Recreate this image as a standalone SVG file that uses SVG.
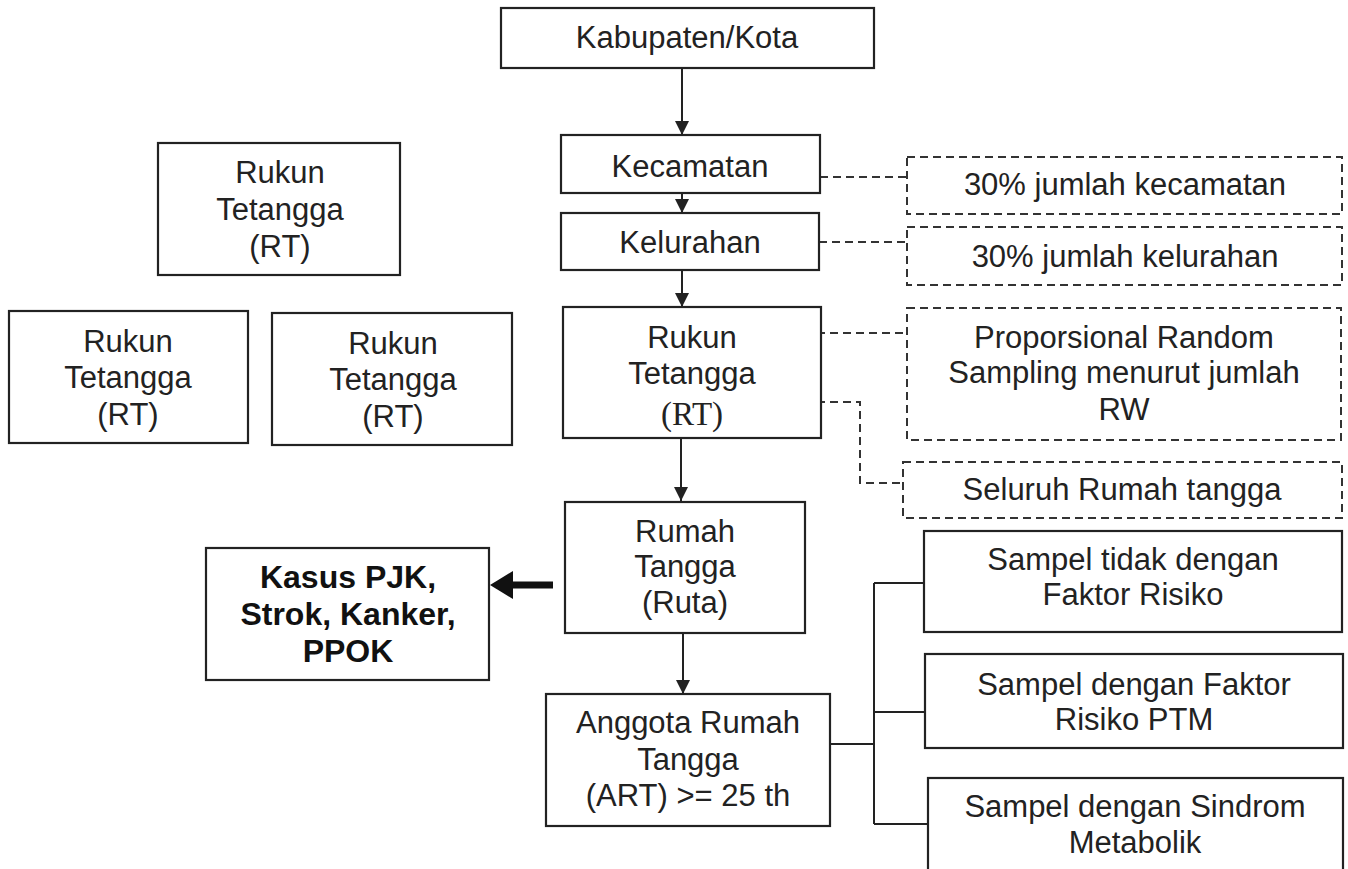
<svg xmlns="http://www.w3.org/2000/svg" width="1348" height="869" viewBox="0 0 1348 869">
<style>
.box{fill:#fff;stroke:#222;stroke-width:2.2}
.dbox{fill:#fff;stroke:#333;stroke-width:2;stroke-dasharray:8 5}
.t{font-family:"Liberation Sans",Arial,sans-serif;font-size:31px;fill:#222;text-anchor:middle}
.tb{font-family:"Liberation Sans",Arial,sans-serif;font-size:32px;font-weight:bold;fill:#111;text-anchor:middle}
.ts{font-family:"Liberation Serif","Times New Roman",serif;font-size:33px;fill:#222;text-anchor:middle}
.ln{fill:none;stroke:#222;stroke-width:2}
.dl{fill:none;stroke:#333;stroke-width:2;stroke-dasharray:8 5}
</style>
<defs>
<marker id="ah" viewBox="0 0 14 14" refX="14" refY="7" markerWidth="14" markerHeight="14" markerUnits="userSpaceOnUse" orient="auto">
<path d="M0,0 L14,7 L0,14 z" fill="#222"/>
</marker>
</defs>
<rect width="1348" height="869" fill="#fff"/>

<g id="connectors">
<line class="ln" x1="682" y1="68" x2="682" y2="135" marker-end="url(#ah)"/>
<line class="ln" x1="682" y1="193" x2="682" y2="213" marker-end="url(#ah)"/>
<line class="ln" x1="682" y1="270" x2="682" y2="307" marker-end="url(#ah)"/>
<line class="ln" x1="681" y1="438" x2="681" y2="501" marker-end="url(#ah)"/>
<line class="ln" x1="683" y1="633" x2="683" y2="694" marker-end="url(#ah)"/>
<line x1="553" y1="585" x2="508" y2="585" stroke="#111" stroke-width="7"/>
<polygon points="490,585 513,571 513,599" fill="#111"/>
<polyline class="dl" points="820,177 907,177"/>
<polyline class="dl" points="819,242 907,242"/>
<polyline class="dl" points="817,333 907,333"/>
<polyline class="dl" points="817,402 860,402 860,483 903,483"/>
<polyline class="ln" points="830,744 874,744"/>
<polyline class="ln" points="874,583 874,824"/>
<polyline class="ln" points="874,583 924,583"/>
<polyline class="ln" points="874,712 925,712"/>
<polyline class="ln" points="874,824 928,824"/>
</g>

<g id="kabupaten">
<rect class="box" x="501" y="8" width="373" height="60"/>
<text class="t" x="687" y="48">Kabupaten/Kota</text>
</g>
<g id="kecamatan">
<rect class="box" x="561" y="135" width="259" height="58"/>
<text class="t" x="690" y="177">Kecamatan</text>
</g>
<g id="kelurahan">
<rect class="box" x="561" y="213" width="258" height="57"/>
<text class="t" x="690" y="253">Kelurahan</text>
</g>
<g id="rt-main">
<rect class="box" x="563" y="307" width="258" height="131"/>
<text class="t" x="692" y="348">Rukun</text>
<text class="t" x="692" y="384">Tetangga</text>
<text class="ts" x="692" y="425">(RT)</text>
</g>
<g id="rt-top">
<rect class="box" x="158" y="143" width="242" height="132"/>
<text class="t" x="280" y="183">Rukun</text>
<text class="t" x="280" y="220">Tetangga</text>
<text class="t" x="280" y="257">(RT)</text>
</g>
<g id="rt-left">
<rect class="box" x="9" y="311" width="239" height="132"/>
<text class="t" x="128" y="352">Rukun</text>
<text class="t" x="128" y="388">Tetangga</text>
<text class="t" x="128" y="425">(RT)</text>
</g>
<g id="rt-mid">
<rect class="box" x="272" y="313" width="240" height="132"/>
<text class="t" x="393" y="354">Rukun</text>
<text class="t" x="393" y="390">Tetangga</text>
<text class="t" x="393" y="427">(RT)</text>
</g>
<g id="rumah-tangga">
<rect class="box" x="565" y="502" width="240" height="131"/>
<text class="t" x="685" y="542">Rumah</text>
<text class="t" x="685" y="577">Tangga</text>
<text class="t" x="685" y="613">(Ruta)</text>
</g>
<g id="anggota">
<rect class="box" x="546" y="694" width="284" height="132"/>
<text class="t" x="688" y="733">Anggota Rumah</text>
<text class="t" x="688" y="770">Tangga</text>
<text class="t" x="688" y="806">(ART) &gt;= 25 th</text>
</g>
<g id="kasus">
<rect class="box" x="206" y="548" width="283" height="132"/>
<text class="tb" x="348" y="588">Kasus PJK,</text>
<text class="tb" x="348" y="625">Strok, Kanker,</text>
<text class="tb" x="348" y="662">PPOK</text>
</g>
<g id="pct-kecamatan">
<rect class="dbox" x="907" y="157" width="435" height="57"/>
<text class="t" x="1125" y="195">30% jumlah kecamatan</text>
</g>
<g id="pct-kelurahan">
<rect class="dbox" x="907" y="227" width="435" height="58"/>
<text class="t" x="1125" y="267">30% jumlah kelurahan</text>
</g>
<g id="proporsional">
<rect class="dbox" x="907" y="308" width="434" height="132"/>
<text class="t" x="1124" y="348">Proporsional Random</text>
<text class="t" x="1124" y="383">Sampling menurut jumlah</text>
<text class="t" x="1124" y="420">RW</text>
</g>
<g id="seluruh">
<rect class="dbox" x="903" y="462" width="439" height="56"/>
<text class="t" x="1122" y="500">Seluruh Rumah tangga</text>
</g>
<g id="sampel-tidak">
<rect class="box" x="924" y="531" width="418" height="101"/>
<text class="t" x="1133" y="570">Sampel tidak dengan</text>
<text class="t" x="1133" y="605">Faktor Risiko</text>
</g>
<g id="sampel-ptm">
<rect class="box" x="925" y="654" width="418" height="94"/>
<text class="t" x="1134" y="695">Sampel dengan Faktor</text>
<text class="t" x="1134" y="730">Risiko PTM</text>
</g>
<g id="sampel-metabolik">
<rect class="box" x="928" y="778" width="415" height="100"/>
<text class="t" x="1135" y="817">Sampel dengan Sindrom</text>
<text class="t" x="1135" y="853">Metabolik</text>
</g>
</svg>
